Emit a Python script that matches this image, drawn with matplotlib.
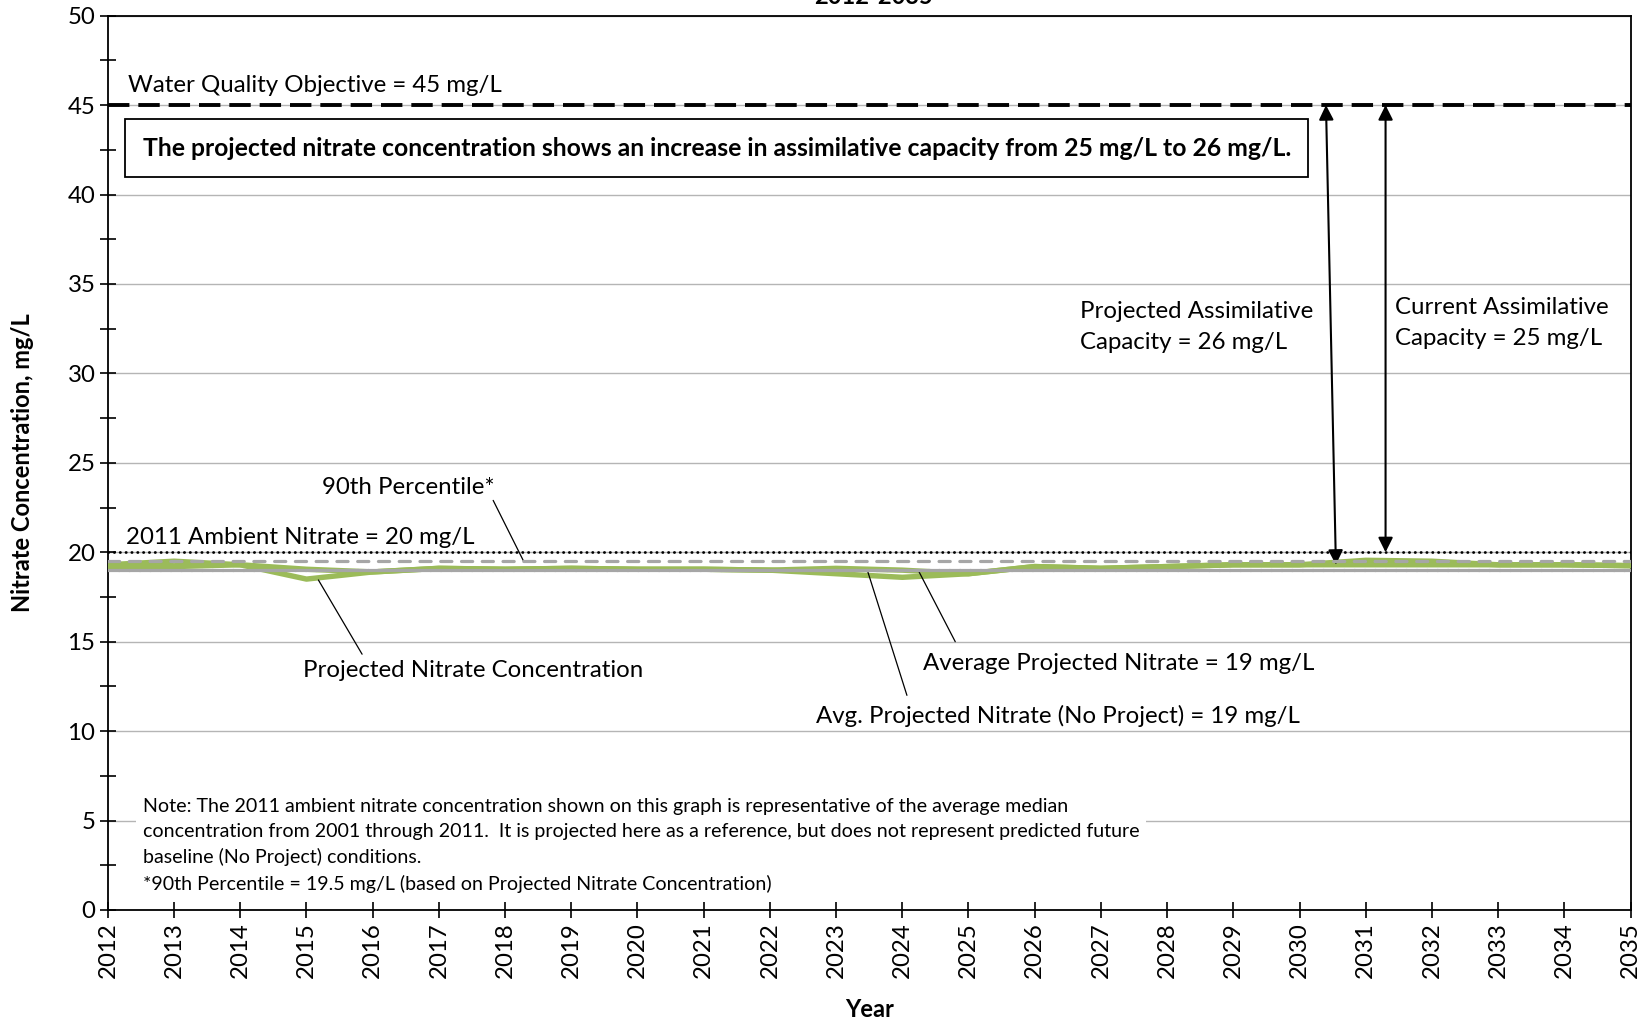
import matplotlib
matplotlib.use('Agg')
import matplotlib.pyplot as plt
import numpy as np

plt.rcParams['font.family'] = ['Lato', 'DejaVu Sans']

# data
years = list(range(2012, 2036))
projected = [19.15, 19.2, 19.3, 18.5, 18.9, 19.1, 19.05, 19.1, 19.05, 19.05, 19.0, 18.8,
             18.6, 18.8, 19.2, 19.1, 19.2, 19.3, 19.3, 19.3, 19.3, 19.3, 19.3, 19.25]
no_project = [19.3, 19.5, 19.3, 19.05, 18.9, 19.1, 19.05, 19.1, 19.05, 19.05, 19.0, 19.1,
              19.0, 18.8, 19.2, 19.1, 19.2, 19.3, 19.3, 19.55, 19.5, 19.3, 19.3, 19.25]
wqo = 45.0
ambient_2011 = 20.0
pct90 = 19.5
avg_projected = 19.0
avg_no_project = 19.0
cur_capacity_x = 2031.3
proj_capacity_x = (2030.4, 2030.55)

green = '#9BBB59'
grey = '#A6A6A6'
fs = 17.3

fig = plt.figure(figsize=(16.42, 10.19), dpi=100)
ax = fig.add_axes([0.0657, 0.107, 0.9273, 0.8776])
ax.set_axisbelow(True)

ax.plot(years, no_project, color=green, lw=3.9, zorder=3)
ax.plot(years, projected, color=green, lw=3.9, zorder=3)

ax.axhline(pct90, color=grey, lw=2.3, ls=(0, (3.5, 3.0)), dash_capstyle='round', zorder=4)
ax.axhline(avg_projected, color=grey, lw=2.3, ls=(0, (3.5, 3.0)), dash_capstyle='round', zorder=4)
ax.axhline(avg_no_project, color=grey, lw=2.3, ls=(3.25, (3.5, 3.0)), dash_capstyle='round', zorder=4)
ax.axhline(wqo, color='black', lw=2.8, ls=(0, (5.5, 2.3)), zorder=4)
ax.axhline(ambient_2011, color='black', lw=2.0, ls=(0, (0.1, 2.0)), dash_capstyle='round', zorder=4)

ax.set_xlim(2012, 2035)
ax.set_ylim(0, 50)
ax.set_xticks(years)
ax.set_xticklabels([str(y) for y in years], rotation=90)
ax.set_yticks(np.arange(0, 51, 5))
ax.set_yticks(np.arange(2.5, 50, 5), minor=True)
ax.tick_params(axis='both', which='both', direction='inout', length=11, width=1.2, labelsize=fs)
ax.tick_params(axis='y', which='minor', length=11)
ax.grid(axis='y', color='#B5B5B5', lw=1.0)
for sp in ax.spines.values():
    sp.set_linewidth(1.3)

ax.set_ylabel('Nitrate Concentration, mg/L', fontsize=17, fontweight='bold', labelpad=24)
ax.set_xlabel('Year', fontsize=17, fontweight='bold', labelpad=14)
fig.text(0.532, 1 - 8 / 1019, '2012-2035', fontsize=17, fontweight='bold', ha='center', va='bottom')

# capacity arrows
arrow = dict(arrowstyle='<|-|>', color='black', lw=1.5, mutation_scale=22, shrinkA=0, shrinkB=0)
ax.annotate('', xy=(proj_capacity_x[1], pct90 - 0.2), xytext=(proj_capacity_x[0], wqo), arrowprops=arrow)
ax.annotate('', xy=(cur_capacity_x, ambient_2011), xytext=(cur_capacity_x, wqo), arrowprops=arrow)

ax.text(2012.3, 46.1, 'Water Quality Objective = 45 mg/L', fontsize=fs, va='center')
ax.text(2021.2, 42.6,
        'The projected nitrate concentration shows an increase in assimilative capacity from 25 mg/L to 26 mg/L.',
        fontsize=17.8, fontweight='bold', ha='center', va='center', zorder=6,
        bbox=dict(boxstyle='square,pad=0.7', fc='white', ec='black', lw=1.3))
ax.text(2026.69, 32.6, 'Projected Assimilative\nCapacity = 26 mg/L', fontsize=fs, va='center', linespacing=1.6)
ax.text(2031.44, 32.8, 'Current Assimilative\nCapacity = 25 mg/L', fontsize=fs, va='center', linespacing=1.6)
ax.text(2012.28, 20.85, '2011 Ambient Nitrate = 20 mg/L', fontsize=fs, va='center')

lead = dict(arrowstyle='-', color='black', lw=0.9, shrinkA=0, shrinkB=0)
ax.text(2015.23, 23.6, '90th Percentile*', fontsize=fs, va='center')
ax.annotate('', xy=(2018.28, pct90), xytext=(2017.82, 22.9), arrowprops=lead)
ax.text(2014.94, 13.4, 'Projected Nitrate Concentration', fontsize=fs, va='center')
ax.annotate('', xy=(2015.18, 18.45), xytext=(2015.84, 14.3), arrowprops=lead)
ax.text(2024.32, 13.8, 'Average Projected Nitrate = 19 mg/L', fontsize=fs, va='center')
ax.annotate('', xy=(2024.24, 19.0), xytext=(2024.8, 15.0), arrowprops=lead)
ax.text(2022.69, 10.85, 'Avg. Projected Nitrate (No Project) = 19 mg/L', fontsize=fs, va='center')
ax.annotate('', xy=(2023.48, 18.9), xytext=(2024.07, 12.0), arrowprops=lead)

note = ('Note: The 2011 ambient nitrate concentration shown on this graph is representative of the average median\n'
        'concentration from 2001 through 2011.  It is projected here as a reference, but does not represent predicted future\n'
        'baseline (No Project) conditions.\n'
        '*90th Percentile = 19.5 mg/L (based on Projected Nitrate Concentration)')
ax.text(2012.53, 3.6, note, fontsize=14.1, va='center', linespacing=1.55, zorder=2,
        bbox=dict(boxstyle='square,pad=0.35', fc='white', ec='none'))

fig.savefig('out.png', dpi=100)
